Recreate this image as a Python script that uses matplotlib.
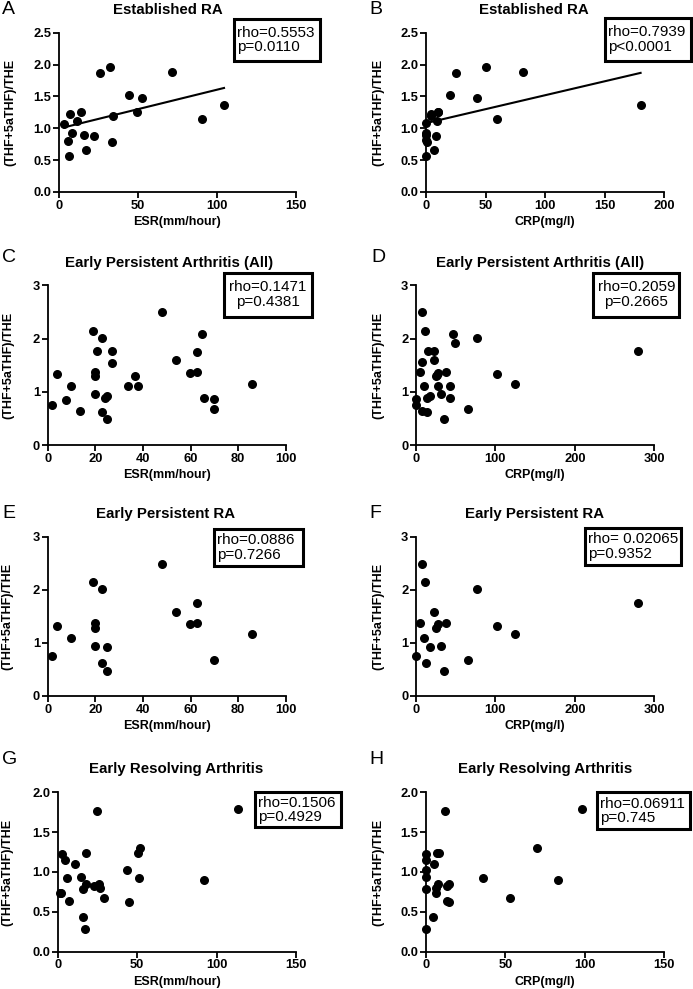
import numpy as np
import matplotlib
matplotlib.use("Agg")
import matplotlib.pyplot as plt
from matplotlib.patches import Rectangle

# ==========================================
# Data
# ==========================================

# A: Established RA, ESR
a_x = [3.4, 7.2, 11.4, 14.3, 6.1, 8.2, 6.3, 16.2, 17.3, 22.3,
       26.3, 32.4, 33.5, 34.5, 44.4, 49.3, 52.5, 71.6, 90.6, 104.5]
a_y = [1.07, 1.22, 1.11, 1.26, 0.80, 0.93, 0.56, 0.90, 0.66, 0.88,
       1.86, 1.96, 0.78, 1.19, 1.53, 1.26, 1.48, 1.89, 1.15, 1.37]

# B: Established RA, CRP
b_x = [0.3, 0.3, 0.3, 0.3, 4.2, 6.7, 8.4, 9.5, 10.1, 20.4,
       25.5, 43.1, 50.3, 59.3, 81.4, 180.1, 0.6, 0.4, 4.5, 9.8]
b_y = [0.56, 0.81, 0.92, 1.08, 1.22, 0.66, 0.88, 1.11, 1.26, 1.53,
       1.86, 1.48, 1.96, 1.15, 1.89, 1.37, 0.79, 0.90, 1.20, 1.25]

# C: Early persistent arthritis (all), ESR
c_x = [1.7, 3.8, 7.8, 9.7, 13.7, 18.9, 20.0, 19.9, 19.9, 20.9,
       23.0, 23.0, 23.9, 24.9, 24.9, 26.9, 26.9, 33.8, 36.8, 37.8,
       48.0, 53.9, 59.8, 62.9, 62.9, 64.8, 65.8, 69.9, 69.9, 86.0]
c_y = [0.76, 1.33, 0.84, 1.11, 0.64, 2.15, 1.38, 1.29, 0.96, 1.76,
       2.01, 0.63, 0.88, 0.93, 0.49, 1.76, 1.55, 1.11, 1.29, 1.11,
       2.49, 1.59, 1.36, 1.38, 1.75, 2.08, 0.88, 0.86, 0.68, 1.15]

# D: Early persistent arthritis (all), CRP
d_x = [0.4, 0.4, 7.1, 7.1, 5.0, 8.0, 11.3, 10.1, 13.8, 15.1,
       13.8, 18.0, 22.2, 22.2, 25.2, 28.1, 28.1, 31.9, 34.8, 37.8,
       43.2, 43.2, 46.6, 49.1, 65.0, 77.2, 102.4, 124.2, 279.4, 26.5]
d_y = [0.86, 0.76, 2.49, 1.56, 1.38, 0.64, 2.15, 1.11, 0.63, 1.76,
       0.88, 0.93, 1.76, 1.59, 1.29, 1.36, 1.11, 0.96, 0.49, 1.38,
       1.11, 0.88, 2.08, 1.91, 0.68, 2.01, 1.33, 1.15, 1.76, 1.31]

# E: Early persistent RA, ESR
e_x = [1.7, 3.8, 9.7, 18.9, 20.0, 19.9, 19.9, 23.0, 23.0, 24.9,
       24.9, 48.0, 53.9, 59.8, 62.9, 62.9, 69.9, 86.0]
e_y = [0.75, 1.32, 1.10, 2.15, 1.38, 1.29, 0.95, 2.01, 0.62, 0.93,
       0.48, 2.49, 1.59, 1.35, 1.38, 1.75, 0.67, 1.16]

# F: Early persistent RA, CRP
f_x = [0.4, 7.1, 5.0, 11.3, 10.1, 13.0, 18.0, 22.2, 25.2, 28.1,
       31.9, 34.8, 37.8, 65.0, 77.2, 102.4, 124.2, 279.4]
f_y = [0.75, 2.49, 1.38, 2.15, 1.10, 0.62, 0.93, 1.59, 1.29, 1.35,
       0.95, 0.48, 1.38, 0.67, 2.01, 1.32, 1.16, 1.75]

# G: Early resolving arthritis, ESR
g_x = [1.5, 2.3, 2.7, 4.8, 5.9, 6.9, 10.9, 14.7, 16.0, 16.0,
       17.0, 17.8, 17.8, 22.9, 25.0, 25.8, 26.9, 28.9, 43.6, 44.7,
       50.8, 51.0, 51.8, 91.9, 113.5]
g_y = [0.74, 0.74, 1.23, 1.15, 0.92, 0.64, 1.10, 0.94, 0.79, 0.43,
       0.28, 0.85, 1.24, 0.82, 1.76, 0.85, 0.80, 0.68, 1.02, 0.62,
       1.24, 0.92, 1.30, 0.90, 1.79]

# H: Early resolving arthritis, CRP
h_x = [0.2, 0.2, 0.2, 0.2, 0.2, 0.2, 4.2, 5.2, 6.3, 6.3,
       7.1, 8.2, 7.3, 12.0, 13.0, 13.2, 14.3, 14.5, 36.1, 53.1,
       70.1, 83.1, 98.4]
h_y = [0.28, 0.79, 0.94, 1.02, 1.15, 1.23, 0.43, 1.10, 0.74, 0.80,
       1.24, 1.24, 0.85, 1.76, 0.82, 0.64, 0.62, 0.85, 0.92, 0.68,
       1.30, 0.90, 1.79]

letters = ["A", "B", "C", "D", "E", "F", "G", "H"]
titles = ["Established RA", "Established RA",
          "Early Persistent Arthritis (All)", "Early Persistent Arthritis (All)",
          "Early Persistent RA", "Early Persistent RA",
          "Early Resolving Arthritis", "Early Resolving Arthritis"]
stats = ["rho=0.5553\np=0.0110", "rho=0.7939\np<0.0001",
         "rho=0.1471\np=0.4381", "rho=0.2059\np=0.2665",
         "rho=0.0886\np=0.7266", "rho= 0.02065\np=0.9352",
         "rho=0.1506\np=0.4929", "rho=0.06911\np=0.745"]
esr_label = "ESR(mm/hour)"
crp_label = "CRP(mg/l)"
y_label = "(THF+5aTHF)/THE"

# ==========================================
# Layout (pixels of a 693x989 picture)
# ==========================================

W, H = 693, 989

# axes box: left, top, right, bottom
boxes = [
    (58.7, 32.7, 296, 192), (426, 32.7, 664.3, 192),
    (47.7, 285.3, 285.7, 445.3), (416, 285.3, 654.3, 445.3),
    (47.7, 536.7, 285.7, 696), (416, 536.7, 654.3, 696),
    (57.7, 792.3, 296, 951.7), (426, 792.3, 664.3, 951.7),
]
# stat box: left, top, right, bottom, centred text?
stat_boxes = [
    (234.3, 19.3, 320, 61, False), (605.3, 18.3, 691, 61, False),
    (224, 272.7, 312.3, 316.7, True), (593.3, 272.7, 679.3, 316.7, True),
    (214.3, 529, 303.3, 566, False), (585.3, 528.3, 681, 565, False),
    (255, 792.3, 340.7, 827.3, False), (596.7, 792.3, 690, 829.3, False),
]
letter_pos = [(2, 9), (369, 9), (2, 258), (371, 258),
              (2, 514), (369, 514), (2, 759), (369, 759)]
title_pos = [(168, 10), (534, 10), (169, 263), (540, 263),
             (166, 514), (535, 514), (176, 769), (545, 769)]
ylab_x = [10, 378, 8, 378, 7, 378, 7, 378]

panels = [
    (a_x, a_y, esr_label, [0, 50, 100, 150], np.arange(0, 2.51, 0.5), True),
    (b_x, b_y, crp_label, [0, 50, 100, 150, 200], np.arange(0, 2.51, 0.5), True),
    (c_x, c_y, esr_label, [0, 20, 40, 60, 80, 100], [0, 1, 2, 3], False),
    (d_x, d_y, crp_label, [0, 100, 200, 300], [0, 1, 2, 3], False),
    (e_x, e_y, esr_label, [0, 20, 40, 60, 80, 100], [0, 1, 2, 3], False),
    (f_x, f_y, crp_label, [0, 100, 200, 300], [0, 1, 2, 3], False),
    (g_x, g_y, esr_label, [0, 50, 100, 150], np.arange(0, 2.01, 0.5), False),
    (h_x, h_y, crp_label, [0, 50, 100, 150], np.arange(0, 2.01, 0.5), False),
]

plt.rcParams["font.family"] = ["Liberation Sans", "DejaVu Sans"]

fig = plt.figure(figsize=(W / 100, H / 100), dpi=100)


def fx(p):
    return p / W


def fy(p):
    return 1 - p / H


# ==========================================
# Plot
# ==========================================

for i, (x, y, xlab, xt, yt, fit) in enumerate(panels):
    l, t, r, b = boxes[i]
    ax = fig.add_axes([fx(l), fy(b), (r - l) / W, (b - t) / H])

    ax.scatter(x, y, s=30, color="black", zorder=3, clip_on=False)

    if fit:
        k, c0 = np.polyfit(x, y, 1)
        xs = np.array([min(x), max(x)])
        ax.plot(xs, k * xs + c0, color="black", lw=1.5)

    ax.set_xlim(xt[0], xt[-1])
    ax.set_ylim(yt[0], yt[-1])
    ax.set_xticks(xt)
    ax.set_yticks(yt)
    if yt[-1] == 3:
        ax.set_yticklabels([str(v) for v in yt])
    else:
        ax.set_yticklabels(["%.1f" % v for v in yt])

    for s in ["top", "right"]:
        ax.spines[s].set_visible(False)
    for s in ["left", "bottom"]:
        ax.spines[s].set_linewidth(1.3)
    ax.tick_params(direction="out", length=4, width=1.3, pad=1.5,
                   labelsize=9.3)
    for lab in ax.get_xticklabels() + ax.get_yticklabels():
        lab.set_fontweight("bold")

    ax.set_xlabel(xlab, fontsize=9, fontweight="bold", labelpad=3)

    fig.text(fx(ylab_x[i]), fy((t + b) / 2), y_label, rotation=90,
             ha="center", va="center", fontsize=9, fontweight="bold")

    tx, ty = title_pos[i]
    fig.text(fx(tx), fy(ty), titles[i], ha="center", va="center",
             fontsize=10.8, fontweight="bold")

    lx, ly = letter_pos[i]
    fig.text(fx(lx), fy(ly), letters[i], ha="left", va="center",
             fontsize=14)

    bl, bt, br, bb, centred = stat_boxes[i]
    fig.add_artist(Rectangle((fx(bl), fy(bb)), (br - bl) / W, (bb - bt) / H,
                             transform=fig.transFigure, fill=False,
                             lw=2.2, edgecolor="black"))
    if centred:
        fig.text(fx((bl + br) / 2), fy((bt + bb) / 2), stats[i],
                 ha="center", va="center", fontsize=11, linespacing=1.05,
                 multialignment="center")
    else:
        fig.text(fx(bl + 3), fy((bt + bb) / 2), stats[i],
                 ha="left", va="center", fontsize=11, linespacing=1.05)

fig.savefig("out.png", dpi=100)
